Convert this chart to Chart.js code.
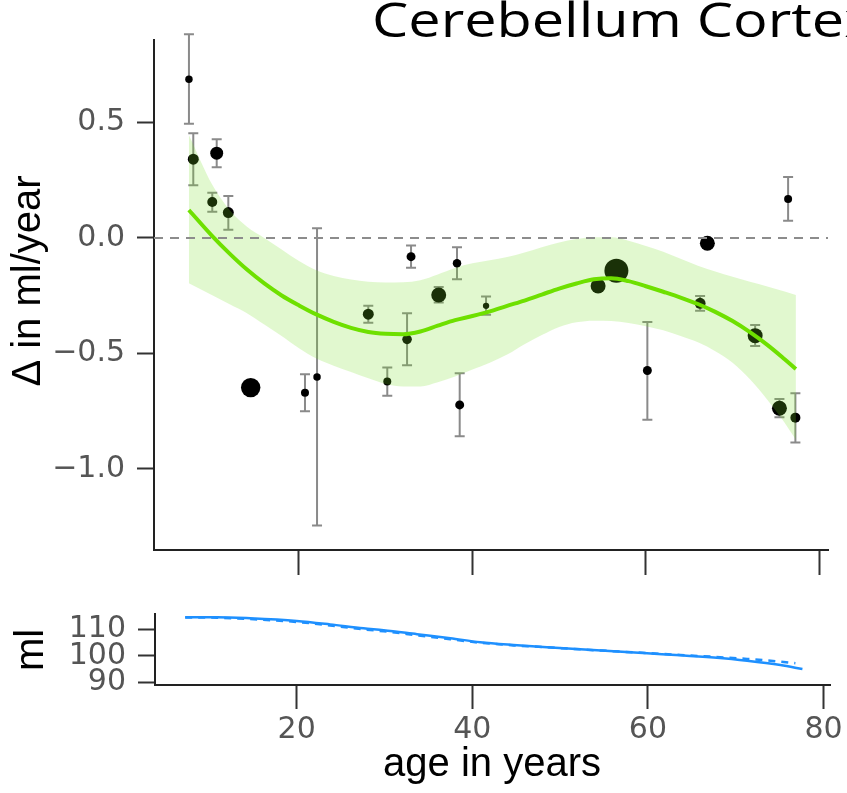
<!DOCTYPE html>
<html><head><meta charset="utf-8">
<script src="https://cdn.jsdelivr.net/npm/chart.js@4.4.1/dist/chart.umd.min.js"></script>
<style>
html,body{margin:0;padding:0;background:#fff;width:847px;height:793px;overflow:hidden;}
#top{position:absolute;left:0;top:0;width:847px;height:600px;}
#bot{position:absolute;left:0;top:595px;width:847px;height:198px;}
canvas{display:block;}
</style></head><body>
<div id="top"><canvas id="c1" width="847" height="600"></canvas></div>
<div id="bot"><canvas id="c2" width="847" height="198"></canvas></div>
<script>
// ---------- texts ----------
const titleText = 'Cerebellum Cortex';
const yTitleTop = '\u0394 in ml/year';
const yTitleBottom = 'ml';
const xTitle = 'age in years';

// ---------- axes ----------
const xTicks = [20, 40, 60, 80];
const yTicksTop = [-1.0, -0.5, 0.0, 0.5];
const yTicksBottom = [90, 100, 110];
const xRangeTop = [3.28, 81.0];
const yRangeTop = [-1.351, 0.857];
const xRangeBottom = [3.86, 80.74];
const yRangeBottom = [89.0, 115.7];

// ---------- per-study points (age, delta, error interval, weight) ----------
const ptAge   = [7.31, 7.81, 10.51, 10.0, 11.85, 14.43, 20.69, 22.08, 27.99, 30.18, 32.46, 32.92, 36.11, 38.22, 38.53, 41.57, 54.49, 56.60, 60.17, 66.25, 67.09, 72.60, 75.40, 76.40, 77.24];
const ptDelta = [0.687, 0.341, 0.367, 0.156, 0.110, -0.648, -0.670, -0.602, -0.330, -0.622, -0.439, -0.081, -0.247, -0.110, -0.723, -0.294, -0.208, -0.142, -0.574, -0.283, -0.023, -0.423, -0.737, 0.169, -0.778];
const errHigh = [0.882, 0.453, 0.427, 0.196, 0.182, null, -0.590, 0.042, -0.294, -0.561, -0.326, -0.033, -0.212, -0.040, -0.586, -0.254, null, null, -0.364, -0.251, null, -0.377, -0.697, 0.264, -0.672];
const errLow  = [0.494, 0.228, 0.306, 0.113, 0.035, null, -0.750, -1.245, -0.367, -0.683, -0.551, -0.129, -0.280, -0.179, -0.858, -0.332, null, null, -0.787, -0.315, null, -0.468, -0.776, 0.075, -0.886];
const ptWeight = [14, 30, 42, 25, 30, 94, 16, 14, 30, 16, 23, 20, 56, 18, 20, 10, 56, 144, 20, 30, 56, 56, 56, 16, 25];

// ---------- fitted curve and confidence band ----------
const fitAge  = [7.3, 10, 12, 14, 16, 18, 20, 22, 24, 26, 28, 30, 32, 34, 36, 38, 40, 42, 44, 46, 48, 50, 52, 54, 56, 58, 60, 62, 64, 66, 68, 70, 72, 74, 76, 77.3];
const fitMean = [0.121, 0.008, -0.068, -0.137, -0.197, -0.249, -0.292, -0.331, -0.363, -0.389, -0.407, -0.415, -0.417, -0.405, -0.38, -0.356, -0.338, -0.318, -0.294, -0.271, -0.245, -0.219, -0.197, -0.179, -0.174, -0.187, -0.209, -0.233, -0.258, -0.286, -0.32, -0.36, -0.408, -0.463, -0.525, -0.567];
const bandHigh = [0.446, 0.23, 0.121, 0.049, 0.0, -0.05, -0.10, -0.14, -0.165, -0.18, -0.19, -0.193, -0.192, -0.183, -0.158, -0.13, -0.11, -0.097, -0.083, -0.063, -0.04, -0.02, -0.005, 0.003, 0.003, -0.012, -0.035, -0.06, -0.09, -0.12, -0.145, -0.168, -0.19, -0.21, -0.232, -0.247];
const bandLow  = [-0.196, -0.248, -0.287, -0.326, -0.375, -0.425, -0.478, -0.522, -0.553, -0.58, -0.607, -0.632, -0.643, -0.643, -0.625, -0.60, -0.57, -0.54, -0.505, -0.46, -0.42, -0.385, -0.365, -0.358, -0.36, -0.368, -0.382, -0.40, -0.425, -0.452, -0.49, -0.54, -0.612, -0.70, -0.80, -0.874];

// ---------- volume panel ----------
const volAgeSolid = [7.3, 10.9, 14.7, 20.0, 23.8, 27.6, 29.9, 33.7, 37.5, 40.9, 44.7, 48.5, 52.3, 56.1, 59.9, 63.7, 67.5, 71.3, 75.1, 77.6];
const volSolid    = [114.5, 114.5, 114.1, 113.1, 111.8, 110.3, 109.6, 108.1, 106.6, 105.1, 104.05, 103.2, 102.4, 101.7, 100.9, 100.2, 99.3, 98.1, 96.5, 95.0];
const volAgeDashed = [7.3, 10.9, 14.7, 20.0, 23.8, 27.6, 29.9, 33.7, 37.5, 40.9, 44.7, 48.5, 52.3, 56.1, 59.9, 63.7, 67.5, 71.3, 75.1, 76.8];
const volDashed    = [114.4, 114.3, 113.8, 112.7, 111.4, 109.9, 109.2, 107.7, 106.2, 104.9, 103.9, 103.2, 102.4, 101.7, 101.0, 100.3, 99.6, 98.8, 97.8, 97.2];

// ---------- helpers ----------
const toXY = (xs, ys) => xs.map((x, i) => ({x: x, y: ys[i]}));
const fmt1 = v => (v < 0 ? '\u2212' : '') + Math.abs(v).toFixed(1);
const TICK_FONT = {family: '"DejaVu Sans", sans-serif', size: 30};
const TICK_COLOR = '#555555';
const AXIS_COLOR = '#222222';
const noPad = s => { s.paddingTop = 0; s.paddingBottom = 0; s.paddingLeft = 0; s.paddingRight = 0; };

const errorBars = {
  id: 'errorBars',
  beforeDatasetsDraw(chart) {
    const {ctx, scales: {x, y}} = chart;
    ctx.save();
    ctx.strokeStyle = '#8a8a8a';
    ctx.lineWidth = 2;
    ptAge.forEach((a, i) => {
      if (errLow[i] == null) return;
      const px = x.getPixelForValue(a);
      const y1 = y.getPixelForValue(errLow[i]);
      const y2 = y.getPixelForValue(errHigh[i]);
      ctx.beginPath();
      ctx.moveTo(px, y1); ctx.lineTo(px, y2);
      ctx.moveTo(px - 5, y1); ctx.lineTo(px + 5, y1);
      ctx.moveTo(px - 5, y2); ctx.lineTo(px + 5, y2);
      ctx.stroke();
    });
    ctx.restore();
  }
};

const topText = {
  id: 'topText',
  afterDraw(chart) {
    const ctx = chart.ctx;
    ctx.save();
    ctx.fillStyle = '#000';
    ctx.font = '48px "Open Sans", sans-serif';
    ctx.textBaseline = 'alphabetic';
    ctx.textAlign = 'left';
    ctx.translate(372, 37);
    ctx.scale(1.2, 1);
    ctx.fillText(titleText, 0, 0);
    ctx.restore();

    ctx.save();
    ctx.fillStyle = '#000';
    ctx.font = '40px "Liberation Sans", Arial, sans-serif';
    ctx.translate(40, 281);
    ctx.rotate(-Math.PI / 2);
    ctx.textAlign = 'center';
    ctx.textBaseline = 'alphabetic';
    ctx.fillText(yTitleTop, 0, 0);
    ctx.restore();
  }
};

const bottomText = {
  id: 'bottomText',
  afterDraw(chart) {
    const ctx = chart.ctx;
    ctx.save();
    ctx.fillStyle = '#000';
    ctx.font = '40px "Liberation Sans", Arial, sans-serif';
    ctx.translate(43, 55);
    ctx.rotate(-Math.PI / 2);
    ctx.textAlign = 'center';
    ctx.textBaseline = 'alphabetic';
    ctx.fillText(yTitleBottom, 0, 0);
    ctx.restore();

    ctx.save();
    ctx.fillStyle = '#000';
    ctx.font = '40px "Liberation Sans", Arial, sans-serif';
    ctx.textAlign = 'center';
    ctx.textBaseline = 'alphabetic';
    ctx.fillText(xTitle, 492, 181);
    ctx.restore();
  }
};

function build() {
  new Chart(document.getElementById('c1'), {
    type: 'scatter',
    data: {
      datasets: [
        { // fitted curve
          type: 'line', order: 1,
          data: toXY(fitAge, fitMean),
          borderColor: '#6ee000', borderWidth: 4, pointRadius: 0, cubicInterpolationMode: 'monotone', fill: false
        },
        { // band upper, filled to lower
          type: 'line', order: 3,
          data: toXY(fitAge, bandHigh),
          borderWidth: 0, borderColor: 'rgba(0,0,0,0)', pointRadius: 0, cubicInterpolationMode: 'monotone',
          fill: '+1', backgroundColor: 'rgba(118,223,36,0.22)'
        },
        { // band lower
          type: 'line', order: 4,
          data: toXY(fitAge, bandLow),
          borderWidth: 0, borderColor: 'rgba(0,0,0,0)', pointRadius: 0, cubicInterpolationMode: 'monotone', fill: false
        },
        { // zero reference
          type: 'line', order: 0,
          data: [{x: xRangeTop[0], y: 0}, {x: xRangeTop[1], y: 0}],
          borderColor: '#8c8c8c', borderWidth: 2, borderDash: [9, 7], pointRadius: 0, fill: false
        },
        { // study points
          type: 'scatter', order: 10,
          data: toXY(ptAge, ptDelta),
          backgroundColor: '#000', borderWidth: 0,
          pointRadius: ctx => Math.sqrt(ptWeight[ctx.dataIndex] || 16),
          pointHoverRadius: ctx => Math.sqrt(ptWeight[ctx.dataIndex] || 16)
        }
      ]
    },
    options: {
      responsive: false, animation: false,
      layout: {padding: {top: 40, right: 19, left: 0, bottom: 0}},
      plugins: {legend: {display: false}, tooltip: {enabled: false}},
      scales: {
        x: {
          type: 'linear', min: xRangeTop[0], max: xRangeTop[1],
          afterBuildTicks: s => { s.ticks = xTicks.map(v => ({value: v})); },
          afterFit: s => { s.height = 50; noPad(s); },
          ticks: {display: false, autoSkip: false},
          grid: {drawOnChartArea: false, drawTicks: true, tickLength: 25, tickColor: '#333', tickWidth: 2},
          border: {display: true, color: AXIS_COLOR, width: 2}
        },
        y: {
          type: 'linear', min: yRangeTop[0], max: yRangeTop[1],
          afterBuildTicks: s => { s.ticks = yTicksTop.map(v => ({value: v})); },
          afterFit: s => { s.width = 154; noPad(s); },
          ticks: {autoSkip: false, callback: v => fmt1(v), font: TICK_FONT, color: TICK_COLOR, padding: 12},
          grid: {drawOnChartArea: false, drawTicks: true, tickLength: 17, tickColor: '#333', tickWidth: 2},
          border: {display: true, color: AXIS_COLOR, width: 2}
        }
      }
    },
    plugins: [errorBars, topText]
  });

  new Chart(document.getElementById('c2'), {
    type: 'line',
    data: {
      datasets: [
        {
          data: toXY(volAgeSolid, volSolid),
          borderColor: '#1e90ff', borderWidth: 2.5, pointRadius: 0, cubicInterpolationMode: 'monotone', fill: false
        },
        {
          data: toXY(volAgeDashed, volDashed),
          borderColor: '#1e90ff', borderWidth: 2.5, borderDash: [7, 6], pointRadius: 0, cubicInterpolationMode: 'monotone', fill: false
        }
      ]
    },
    options: {
      responsive: false, animation: false,
      layout: {padding: {top: 19, right: 17, left: 0, bottom: 0}},
      plugins: {legend: {display: false}, tooltip: {enabled: false}},
      scales: {
        x: {
          type: 'linear', min: xRangeBottom[0], max: xRangeBottom[1],
          afterBuildTicks: s => { s.ticks = xTicks.map(v => ({value: v})); },
          afterFit: s => { s.height = 108; noPad(s); },
          ticks: {autoSkip: false, maxRotation: 0, font: TICK_FONT, color: TICK_COLOR, padding: 3},
          grid: {drawOnChartArea: false, drawTicks: true, tickLength: 24, tickColor: '#333', tickWidth: 2},
          border: {display: true, color: AXIS_COLOR, width: 2}
        },
        y: {
          type: 'linear', min: yRangeBottom[0], max: yRangeBottom[1],
          afterBuildTicks: s => { s.ticks = yTicksBottom.map(v => ({value: v})); },
          afterFit: s => { s.width = 155; noPad(s); },
          ticks: {autoSkip: false, font: TICK_FONT, color: TICK_COLOR, padding: 12},
          grid: {drawOnChartArea: false, drawTicks: true, tickLength: 17, tickColor: '#333', tickWidth: 2},
          border: {display: true, color: AXIS_COLOR, width: 2}
        }
      }
    },
    plugins: [bottomText]
  });
}

const fontLoads = [
  '48px "Open Sans"', '40px "Liberation Sans"', '30px "DejaVu Sans"'
].map(f => document.fonts && document.fonts.load ? document.fonts.load(f).catch(() => null) : Promise.resolve());
Promise.all(fontLoads).then(build, build);
</script>
</body></html>
